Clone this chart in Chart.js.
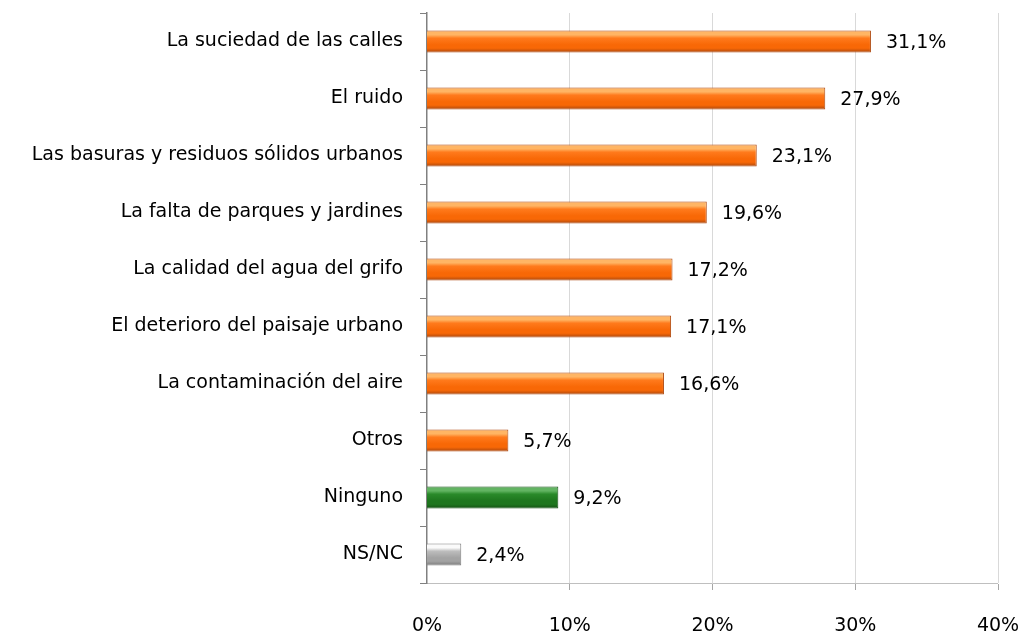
<!DOCTYPE html>
<html>
<head>
<meta charset="utf-8">
<script src="https://cdn.jsdelivr.net/npm/chart.js@4"></script>
<style>
  html, body { margin: 0; padding: 0; background: #fff; }
  #wrap { width: 1024px; height: 634px; }
</style>
</head>
<body>
<div id="wrap"><canvas id="problemChart"></canvas></div>
<script>
// Chart data
const categories = [
  "La suciedad de las calles",
  "El ruido",
  "Las basuras y residuos sólidos urbanos",
  "La falta de parques y jardines",
  "La calidad del agua del grifo",
  "El deterioro del paisaje urbano",
  "La contaminación del aire",
  "Otros",
  "Ninguno",
  "NS/NC"
];
const percentValues = [31.1, 27.9, 23.1, 19.6, 17.2, 17.1, 16.6, 5.7, 9.2, 2.4];
const barKinds = ["orange", "orange", "orange", "orange", "orange", "orange", "orange", "orange", "green", "gray"];
const xTicks = [0, 10, 20, 30, 40];

// light / mid / dark shades for the bevelled bars
const shades = {
  orange: ["#FFB564", "#FF7A1C", "#F86806", "#A8460E"],
  green: ["#62B462", "#2A8A2A", "#1E761E", "#145014"],
  gray: ["#FAFAFA", "#BDBDBD", "#A3A3A3", "#7A7A7A"]
};
const borderShades = { orange: "#B04A10", green: "#145014", gray: "#7F7F7F" };

const fontFamily = "'DejaVu Sans', sans-serif";
const fontSize = 19;
const barPct = 0.39;

function barGradient(context) {
  const chart = context.chart;
  const yScale = chart.scales.y;
  const kind = barKinds[context.dataIndex];
  if (!yScale || !chart.chartArea) return shades[kind][2];
  const center = yScale.getPixelForValue(context.dataIndex);
  const half = (yScale.height / categories.length) * barPct / 2;
  const g = chart.ctx.createLinearGradient(0, center - half, 0, center + half);
  const c = shades[kind];
  g.addColorStop(0, c[0]);
  g.addColorStop(0.2, c[0]);
  g.addColorStop(0.35, c[1]);
  g.addColorStop(0.65, c[2]);
  g.addColorStop(0.8, c[2]);
  g.addColorStop(1, c[3]);
  return g;
}

// Draws the value labels to the right of each bar
const valueLabels = {
  id: "valueLabels",
  afterDatasetsDraw(chart) {
    const ctx = chart.ctx;
    const meta = chart.getDatasetMeta(0);
    ctx.save();
    ctx.font = fontSize + "px " + fontFamily;
    ctx.fillStyle = "#000";
    ctx.textAlign = "left";
    ctx.textBaseline = "middle";
    meta.data.forEach((bar, i) => {
      let txt = percentValues[i].toFixed(1).replace(".", ",") + "%";
      ctx.fillText(txt, bar.x + 15, bar.y + 2);
    });
    ctx.restore();
  }
};

const problemChart = new Chart(document.getElementById("problemChart"), {
  type: "bar",
  data: {
    labels: categories,
    datasets: [
      {
        data: percentValues,
        backgroundColor: barGradient,
        borderColor: (c) => borderShades[barKinds[c.dataIndex]],
        borderWidth: 1,
        categoryPercentage: 1,
        barPercentage: barPct
      }
    ]
  },
  options: {
    indexAxis: "y",
    responsive: true,
    maintainAspectRatio: false,
    animation: false,
    layout: { padding: { top: 13, right: 26, bottom: 0, left: 0 } },
    plugins: {
      legend: { display: false },
      tooltip: { enabled: false }
    },
    scales: {
      x: {
        min: 0,
        max: 40,
        afterBuildTicks: (scale) => {
          scale.ticks = xTicks.map((v) => ({ value: v }));
        },
        afterFit: (scale) => {
          scale.height = 51;
          scale.paddingLeft = 0;
          scale.paddingRight = 0;
        },
        ticks: {
          font: { family: fontFamily, size: fontSize },
          color: "#000",
          padding: 25,
          maxRotation: 0,
          callback: (v) => v + "%"
        },
        grid: {
          color: "#D9D9D9",
          tickColor: "#A6A6A6",
          tickLength: 7,
          lineWidth: (c) => (c.tick && c.tick.value === 0 ? 0 : 1)
        },
        border: { color: "#BFBFBF" }
      },
      y: {
        afterFit: (scale) => {
          scale.width = 427;
          scale.paddingTop = 0;
          scale.paddingBottom = 0;
        },
        ticks: {
          font: { family: fontFamily, size: fontSize },
          color: "#000",
          padding: 17
        },
        grid: {
          drawOnChartArea: false,
          color: "#808080",
          tickLength: 7
        },
        border: { color: "#808080", width: 1.5 }
      }
    }
  },
  plugins: [valueLabels]
});
</script>
</body>
</html>
